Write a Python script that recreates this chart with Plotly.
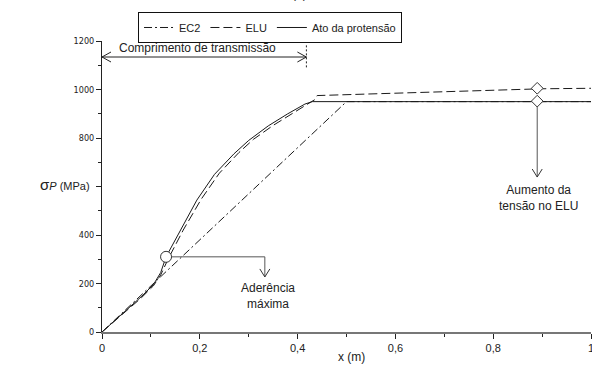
import plotly.graph_objects as go

# Prestress along the transmission length
x_ec2 = [0.0, 0.5, 1.0]
s_ec2 = [0, 950, 950]

x_elu = [0.0, 0.04, 0.08, 0.105, 0.12, 0.135, 0.166, 0.203, 0.24, 0.28, 0.31, 0.35, 0.39, 0.42, 0.435, 0.44, 0.6, 0.8, 0.9, 1.0]
s_elu = [0, 70, 140, 190, 235, 300, 420, 548, 655, 740, 795, 852, 902, 940, 958, 975, 985, 995, 1003, 1005]

x_ato = [0.0, 0.04, 0.08, 0.105, 0.12, 0.131, 0.16, 0.194, 0.23, 0.27, 0.30, 0.34, 0.38, 0.415, 0.43, 1.0]
s_ato = [0, 72, 145, 195, 245, 310, 420, 544, 650, 735, 790, 850, 900, 940, 950, 950]

# Highlighted points
x_aderencia = [0.131]
s_aderencia = [310]
x_aumento = [0.89, 0.89]
s_aumento = [1005, 952]

# Axis ticks (the 600 position carries the axis title instead of a number)
y_tickvals = [0, 200, 400, 600, 800, 1000, 1200]
y_ticktext = ["0", "200", "400", "", "800", "1000", "1200"]

# Annotation anchors (data units)
l_transmissao = 0.418
y_cota = 1134
x_seta_ader = 0.333
y_seta_ader = 227
y_seta_elu = 639

LINE = "#1a1a1a"
FONT = "Arial, Liberation Sans, sans-serif"
NARROW = "Liberation Sans Narrow, Arial Narrow, DejaVu Sans Condensed, sans-serif"

fig = go.Figure()
fig.add_trace(go.Scatter(x=x_ec2, y=s_ec2, mode="lines", name="EC2",
                         line=dict(color=LINE, width=1, dash="8px,3px,2px,3px")))
fig.add_trace(go.Scatter(x=x_elu, y=s_elu, mode="lines", name="ELU",
                         line=dict(color=LINE, width=1, dash="9px,4px")))
fig.add_trace(go.Scatter(x=x_ato, y=s_ato, mode="lines", name="Ato da protensão",
                         line=dict(color=LINE, width=1)))

# Leader lines for the call-outs
fig.add_trace(go.Scatter(x=[x_aderencia[0], x_seta_ader, x_seta_ader],
                         y=[s_aderencia[0], s_aderencia[0], y_seta_ader],
                         mode="lines", line=dict(color="#555", width=1),
                         showlegend=False, hoverinfo="skip"))
fig.add_trace(go.Scatter(x=[x_aumento[1], x_aumento[1]], y=[s_aumento[1], y_seta_elu],
                         mode="lines", line=dict(color="#555", width=1),
                         showlegend=False, hoverinfo="skip"))
fig.add_trace(go.Scatter(x=[0, l_transmissao], y=[y_cota, y_cota],
                         mode="lines", line=dict(color="#222", width=1),
                         showlegend=False, hoverinfo="skip"))
fig.add_trace(go.Scatter(x=[l_transmissao, l_transmissao], y=[1182, 1090],
                         mode="lines", line=dict(color="#222", width=1, dash="2px,2px"),
                         showlegend=False, hoverinfo="skip"))

# Markers
fig.add_trace(go.Scatter(x=x_aderencia, y=s_aderencia, mode="markers",
                         marker=dict(symbol="circle", size=11, color="white",
                                     line=dict(color="#333", width=1)),
                         showlegend=False, hoverinfo="skip"))
fig.add_trace(go.Scatter(x=x_aumento, y=s_aumento, mode="markers",
                         marker=dict(symbol="diamond", size=9, color="white",
                                     line=dict(color="#333", width=1)),
                         showlegend=False, hoverinfo="skip"))


def v_head(x, y, path, color="#222"):
    return dict(type="path", xref="x", yref="y", xsizemode="pixel", ysizemode="pixel",
                xanchor=x, yanchor=y, path=path, line=dict(color=color, width=1))


shapes = [
    v_head(x_seta_ader, y_seta_ader, "M -5 8 L 0 0 L 5 8", "#333"),
    v_head(x_aumento[1], y_seta_elu, "M -5 8 L 0 0 L 5 8", "#333"),
    v_head(0, y_cota, "M 9 5 L 0 0 L 9 -5"),
    v_head(l_transmissao, y_cota, "M -9 5 L 0 0 L -9 -5"),
]

annotations = [
    dict(x=0.196, y=1173, xref="x", yref="y", text="Comprimento de transmissão",
         showarrow=False, font=dict(size=12, color="#222", family=FONT)),
    dict(x=0.34, y=219, xref="x", yref="y", yanchor="top",
         text="Aderência<br>máxima", showarrow=False,
         font=dict(size=12, color="#222", family=FONT)),
    dict(x=0.892, y=623, xref="x", yref="y", yanchor="top",
         text="Aumento da<br>tensão no ELU", showarrow=False,
         font=dict(size=12, color="#222", family=FONT)),
    dict(x=-0.131, y=610, xref="paper", yref="y", xanchor="left",
         text="<span style='font-size:15px'>σ</span><i>P</i> (MPa)", showarrow=False,
         font=dict(size=11, color="#222", family=FONT)),
    dict(x=0.51, y=-0.086, xref="paper", yref="paper", yanchor="middle",
         text="x (m)", showarrow=False, font=dict(size=12, color="#222", family=FONT)),
    dict(x=0.404, y=1.131, xref="paper", yref="paper", yanchor="bottom",
         text="(b)", showarrow=False, font=dict(size=12, color="#222", family=FONT)),
]

fig.update_layout(
    width=592, height=369,
    margin=dict(l=102, r=1, t=41, b=37, autoexpand=False),
    paper_bgcolor="white", plot_bgcolor="white",
    separators=",.",
    font=dict(family=FONT, size=11, color="#222"),
    shapes=shapes, annotations=annotations,
    showlegend=True,
    legend=dict(orientation="h", x=0.3436, xanchor="center", y=1.0997, yanchor="top",
                bordercolor="#111", borderwidth=1, bgcolor="white",
                font=dict(size=11, family=FONT), itemwidth=30,
                tracegroupgap=0),
)
fig.update_xaxes(range=[0, 1], dtick=0.2, tickformat="~g", showgrid=False, zeroline=False,
                 showline=True, linecolor="#777", linewidth=2,
                 ticks="outside", ticklen=5, tickcolor="#222",
                 ticklabeloverflow="allow", automargin=False,
                 tickfont=dict(size=11, family=FONT),
                 minor=dict(dtick=0.1, ticks="outside", ticklen=3, tickcolor="#222"))
fig.update_yaxes(range=[0, 1200], tickvals=y_tickvals, ticktext=y_ticktext,
                 showgrid=False, zeroline=False, automargin=False,
                 showline=True, linecolor="#222", linewidth=1,
                 ticks="outside", ticklen=5, tickcolor="#222",
                 tickfont=dict(size=9, family=NARROW),
                 minor=dict(dtick=100, ticks="outside", ticklen=3, tickcolor="#222"))

fig.write_html("out.html")
